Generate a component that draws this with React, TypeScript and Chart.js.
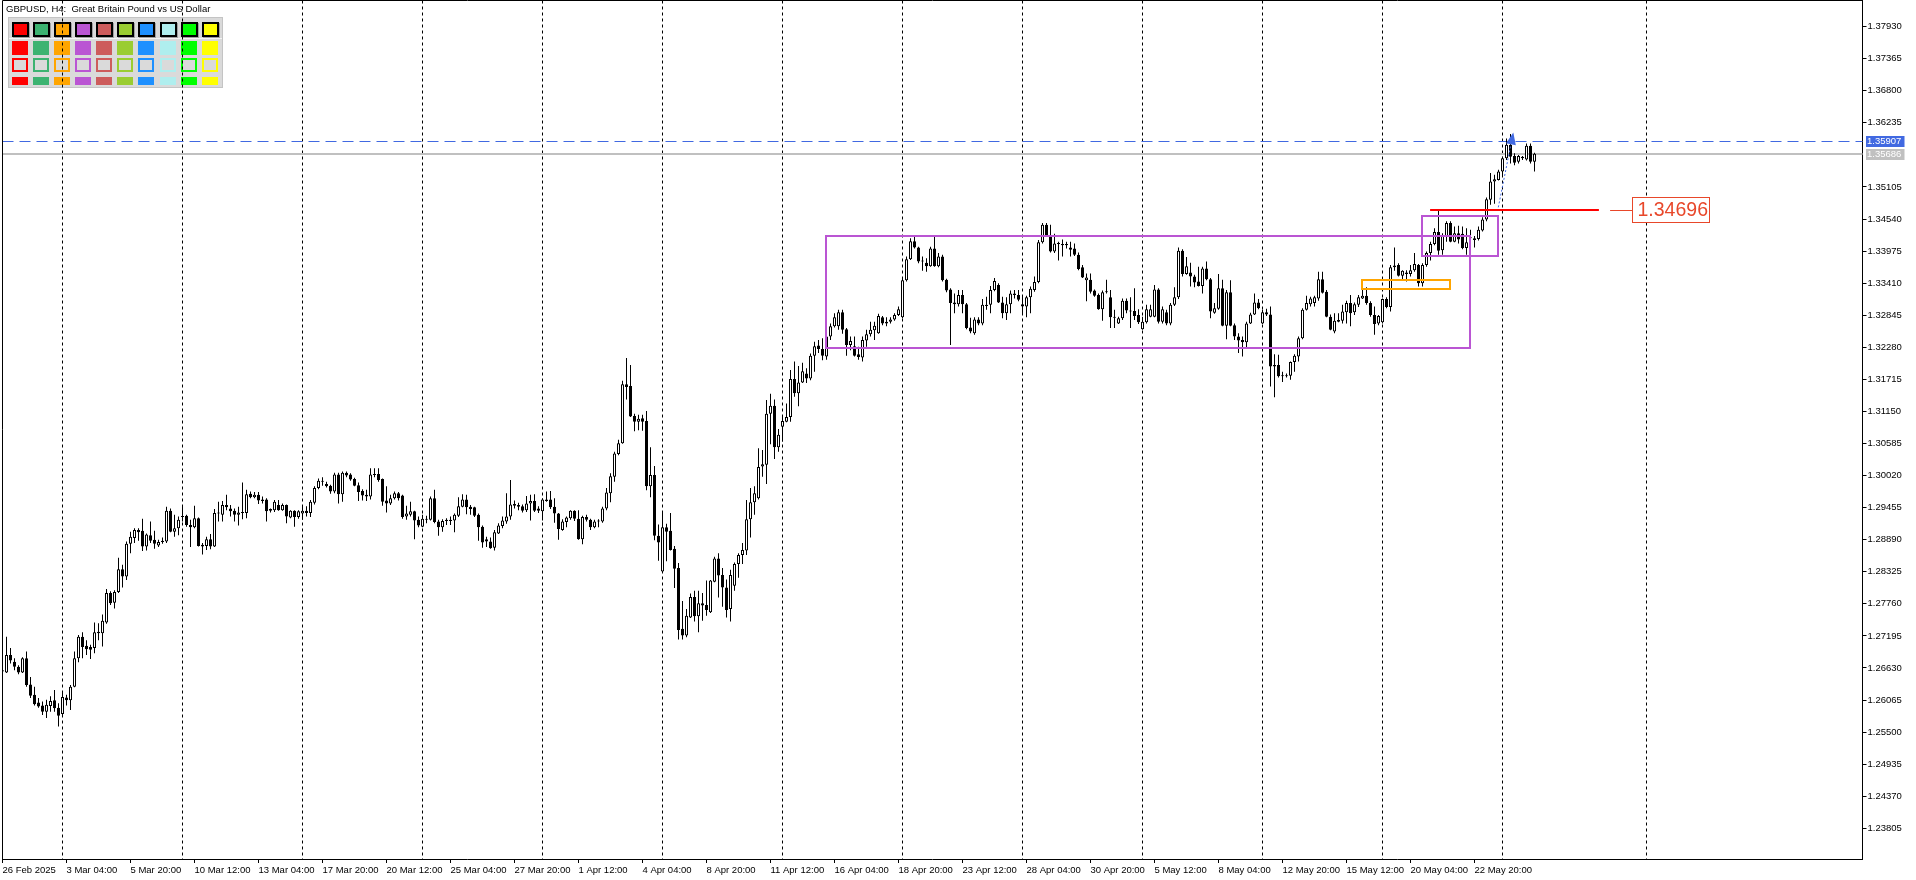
import React, { useEffect, useRef } from 'react';
import { Chart, registerables } from 'chart.js';

Chart.register(...registerables);

// ---- H4 candles (bar 0 = 26 Feb 2025 12:00) ----
const opens = [
1.2659,1.2655,1.2686,1.2674,1.2665,1.2655,1.2680,1.2634,1.2616,1.2602,
1.2597,1.2586,1.2596,1.2606,1.2593,1.2582,1.2611,1.2606,1.2630,1.2680,
1.2718,1.2702,1.2700,1.2698,1.2727,1.2724,1.2743,1.2795,1.2778,1.2797,
1.2837,1.2824,1.2882,1.2892,1.2906,1.2905,1.2877,1.2897,1.2889,1.2879,
1.2885,1.2886,1.2940,1.2903,1.2909,1.2929,1.2931,1.2915,1.2911,1.2927,
1.2880,1.2878,1.2890,1.2877,1.2935,1.2933,1.2950,1.2944,1.2940,1.2933,
1.2937,1.2936,1.2970,1.2964,1.2968,1.2960,1.2960,1.2943,1.2941,1.2950,
1.2941,1.2950,1.2928,1.2940,1.2929,1.2935,1.2940,1.2936,1.2954,1.2980,
1.2991,1.2987,1.2984,1.2974,1.3004,1.2969,1.3007,1.3004,1.2996,1.2985,
1.2975,1.2968,1.2965,1.3003,1.3005,1.2996,1.2958,1.2953,1.2962,1.2971,
1.2967,1.2930,1.2933,1.2939,1.2924,1.2912,1.2924,1.2924,1.2962,1.2921,
1.2911,1.2922,1.2924,1.2923,1.2931,1.2947,1.2960,1.2947,1.2946,1.2933,
1.2912,1.2890,1.2886,1.2875,1.2900,1.2913,1.2921,1.2930,1.2949,1.2950,
1.2948,1.2941,1.2953,1.2957,1.2944,1.2939,1.2960,1.2960,1.2947,1.2935,
1.2906,1.2920,1.2927,1.2940,1.2926,1.2890,1.2929,1.2924,1.2911,1.2921,
1.2921,1.2944,1.2971,1.3000,1.3040,1.3059,1.3163,1.3160,1.3107,1.3097,
1.3103,1.3098,1.2983,1.3003,1.2896,1.2833,1.2911,1.2905,1.2873,1.2839,
1.2732,1.2720,1.2752,1.2788,1.2754,1.2777,1.2774,1.2761,1.2815,1.2856,
1.2827,1.2805,1.2767,1.2808,1.2846,1.2862,1.2870,1.2925,1.2955,1.2962,
1.3018,1.3021,1.3111,1.3125,1.3052,1.3088,1.3097,1.3105,1.3172,1.3147,
1.3166,1.3182,1.3173,1.3213,1.3231,1.3225,1.3212,1.3247,1.3265,1.3265,
1.3290,1.3260,1.3232,1.3230,1.3216,1.3210,1.3240,1.3251,1.3258,1.3253,
1.3281,1.3273,1.3273,1.3277,1.3285,1.3281,1.3346,1.3383,1.3415,1.3404,
1.3379,1.3377,1.3371,1.3402,1.3371,1.3388,1.3347,1.3330,1.3304,1.3304,
1.3320,1.3304,1.3263,1.3253,1.3277,1.3270,1.3301,1.3303,1.3329,1.3338,
1.3307,1.3288,1.3304,1.3320,1.3320,1.3304,1.3300,1.3316,1.3329,1.3343,
1.3413,1.3444,1.3424,1.3397,1.3411,1.3410,1.3410,1.3404,1.3402,1.3391,
1.3369,1.3346,1.3347,1.3328,1.3320,1.3295,1.3325,1.3316,1.3282,1.3270,
1.3279,1.3310,1.3291,1.3292,1.3285,1.3260,1.3272,1.3282,1.3282,1.3330,
1.3273,1.3290,1.3270,1.3303,1.3316,1.3398,1.3357,1.3360,1.3353,1.3344,
1.3336,1.3367,1.3348,1.3289,1.3296,1.3332,1.3266,1.3325,1.3267,1.3247,
1.3241,1.3237,1.3270,1.3286,1.3307,1.3270,1.3290,1.3286,1.3197,1.3197,
1.3179,1.3177,1.3178,1.3202,1.3212,1.3244,1.3294,1.3304,1.3306,1.3314,
1.3348,1.3326,1.3282,1.3256,1.3276,1.3275,1.3290,1.3306,1.3290,1.3303,
1.3314,1.3319,1.3306,1.3285,1.3270,1.3272,1.3313,1.3299,1.3369,1.3373,
1.3354,1.3360,1.3357,1.3364,1.3373,1.3341,1.3373,1.3394,1.3410,1.3431,
1.3399,1.3423,1.3447,1.3414,1.3429,1.3428,1.3403,1.3420,1.3417,1.3419,
1.3434,1.3453,1.3488,1.3520,1.3523,1.3538,1.3561,1.3585,1.3565,1.3555,
1.3561,1.3559,1.3583,1.3555,
];

const highs = [
1.2663,1.2718,1.2698,1.2680,1.2668,1.2682,1.2692,1.2647,1.2630,1.2610,
1.2604,1.2607,1.2613,1.2624,1.2601,1.2620,1.2616,1.2633,1.2692,1.2721,
1.2726,1.2712,1.2704,1.2743,1.2742,1.2757,1.2802,1.2798,1.2800,1.2857,
1.2845,1.2886,1.2903,1.2909,1.2909,1.2926,1.2900,1.2921,1.2905,1.2889,
1.2893,1.2947,1.2944,1.2933,1.2930,1.2947,1.2933,1.2924,1.2949,1.2928,
1.2883,1.2894,1.2899,1.2943,1.2956,1.2957,1.2968,1.2950,1.2944,1.2947,
1.2990,1.2977,1.2974,1.2973,1.2973,1.2965,1.2962,1.2944,1.2959,1.2959,
1.2953,1.2951,1.2941,1.2941,1.2941,1.2947,1.2948,1.2959,1.2983,1.2997,
1.2999,1.2991,1.2986,1.3007,1.3007,1.3009,1.3009,1.3006,1.2998,1.2990,
1.2978,1.2977,1.3015,1.3015,1.3015,1.2997,1.2983,1.2968,1.2974,1.2973,
1.2968,1.2949,1.2956,1.2940,1.2930,1.2933,1.2931,1.2965,1.2977,1.2924,
1.2925,1.2927,1.2930,1.2935,1.2964,1.2969,1.2968,1.2950,1.2947,1.2935,
1.2914,1.2894,1.2893,1.2906,1.2918,1.2930,1.2971,1.2994,1.2958,1.2954,
1.2951,1.2966,1.2968,1.2969,1.2948,1.2962,1.2974,1.2975,1.2962,1.2936,
1.2925,1.2930,1.2941,1.2941,1.2941,1.2931,1.2933,1.2926,1.2924,1.2925,
1.2947,1.2980,1.3006,1.3044,1.3065,1.3169,1.3209,1.3197,1.3111,1.3109,
1.3109,1.3116,1.3052,1.3019,1.2916,1.2937,1.2917,1.2936,1.2878,1.2848,
1.2781,1.2767,1.2794,1.2799,1.2799,1.2795,1.2817,1.2818,1.2859,1.2865,
1.2839,1.2819,1.2836,1.2849,1.2865,1.2883,1.2959,1.2980,1.2983,1.3050,
1.3047,1.3135,1.3146,1.3136,1.3084,1.3107,1.3129,1.3188,1.3203,1.3195,
1.3201,1.3191,1.3217,1.3238,1.3241,1.3244,1.3256,1.3270,1.3288,1.3294,
1.3294,1.3262,1.3247,1.3247,1.3229,1.3247,1.3259,1.3273,1.3273,1.3287,
1.3283,1.3281,1.3281,1.3288,1.3300,1.3350,1.3388,1.3420,1.3423,1.3405,
1.3388,1.3385,1.3405,1.3423,1.3394,1.3391,1.3349,1.3332,1.3323,1.3329,
1.3329,1.3306,1.3280,1.3281,1.3281,1.3313,1.3317,1.3336,1.3350,1.3341,
1.3317,1.3316,1.3328,1.3329,1.3329,1.3317,1.3319,1.3335,1.3353,1.3417,
1.3447,1.3447,1.3444,1.3428,1.3414,1.3418,1.3414,1.3414,1.3411,1.3395,
1.3373,1.3358,1.3358,1.3330,1.3323,1.3328,1.3347,1.3329,1.3294,1.3282,
1.3314,1.3314,1.3316,1.3332,1.3295,1.3282,1.3303,1.3303,1.3338,1.3332,
1.3300,1.3294,1.3306,1.3334,1.3404,1.3401,1.3387,1.3377,1.3356,1.3370,
1.3370,1.3379,1.3350,1.3306,1.3357,1.3347,1.3329,1.3346,1.3270,1.3253,
1.3247,1.3273,1.3289,1.3323,1.3313,1.3294,1.3296,1.3300,1.3216,1.3215,
1.3185,1.3182,1.3203,1.3216,1.3247,1.3297,1.3319,1.3317,1.3319,1.3361,
1.3361,1.3329,1.3286,1.3288,1.3288,1.3303,1.3310,1.3320,1.3307,1.3320,
1.3335,1.3334,1.3309,1.3300,1.3285,1.3314,1.3316,1.3373,1.3404,1.3376,
1.3364,1.3364,1.3373,1.3394,1.3375,1.3376,1.3397,1.3414,1.3438,1.3470,
1.3429,1.3450,1.3450,1.3441,1.3442,1.3441,1.3438,1.3435,1.3424,1.3441,
1.3457,1.3492,1.3535,1.3532,1.3541,1.3564,1.3596,1.3604,1.3570,1.3567,
1.3565,1.3587,1.3587,1.3571,
];

const lows = [
1.2654,1.2654,1.2671,1.2659,1.2652,1.2654,1.2630,1.2610,1.2597,1.2593,
1.2580,1.2575,1.2586,1.2586,1.2560,1.2579,1.2597,1.2589,1.2629,1.2673,
1.2680,1.2686,1.2679,1.2689,1.2712,1.2701,1.2741,1.2774,1.2768,1.2795,
1.2805,1.2818,1.2865,1.2883,1.2887,1.2869,1.2870,1.2883,1.2873,1.2876,
1.2882,1.2883,1.2902,1.2894,1.2897,1.2921,1.2912,1.2876,1.2909,1.2877,
1.2863,1.2871,1.2872,1.2876,1.2921,1.2921,1.2941,1.2930,1.2921,1.2914,
1.2925,1.2927,1.2962,1.2962,1.2952,1.2953,1.2921,1.2937,1.2938,1.2940,
1.2940,1.2918,1.2927,1.2912,1.2926,1.2924,1.2930,1.2929,1.2951,1.2978,
1.2984,1.2981,1.2970,1.2971,1.2953,1.2956,1.2999,1.2993,1.2983,1.2957,
1.2958,1.2957,1.2960,1.2999,1.2991,1.2949,1.2937,1.2950,1.2960,1.2958,
1.2926,1.2924,1.2930,1.2890,1.2911,1.2911,1.2918,1.2923,1.2918,1.2896,
1.2903,1.2915,1.2915,1.2902,1.2929,1.2946,1.2934,1.2933,1.2929,1.2887,
1.2875,1.2876,1.2873,1.2870,1.2899,1.2909,1.2917,1.2924,1.2944,1.2941,
1.2937,1.2938,1.2923,1.2938,1.2936,1.2923,1.2956,1.2943,1.2919,1.2889,
1.2905,1.2911,1.2924,1.2922,1.2889,1.2881,1.2921,1.2906,1.2909,1.2911,
1.2919,1.2941,1.2955,1.2991,1.3038,1.3058,1.3136,1.3105,1.3080,1.3082,
1.3081,1.2976,1.2964,1.2888,1.2852,1.2832,1.2851,1.2870,1.2804,1.2713,
1.2713,1.2717,1.2751,1.2745,1.2726,1.2746,1.2755,1.2760,1.2814,1.2787,
1.2771,1.2752,1.2745,1.2799,1.2822,1.2846,1.2862,1.2893,1.2933,1.2960,
1.3000,1.2987,1.3057,1.3031,1.3044,1.3062,1.3096,1.3097,1.3141,1.3124,
1.3165,1.3165,1.3170,1.3185,1.3218,1.3205,1.3206,1.3241,1.3263,1.3259,
1.3252,1.3213,1.3223,1.3212,1.3206,1.3203,1.3229,1.3247,1.3241,1.3252,
1.3267,1.3265,1.3270,1.3275,1.3283,1.3279,1.3344,1.3382,1.3402,1.3376,
1.3363,1.3361,1.3370,1.3370,1.3369,1.3344,1.3325,1.3232,1.3288,1.3300,
1.3288,1.3260,1.3253,1.3250,1.3267,1.3267,1.3294,1.3288,1.3327,1.3306,
1.3279,1.3276,1.3288,1.3314,1.3309,1.3288,1.3281,1.3288,1.3326,1.3341,
1.3411,1.3423,1.3395,1.3394,1.3381,1.3388,1.3402,1.3388,1.3389,1.3364,
1.3350,1.3309,1.3323,1.3317,1.3294,1.3275,1.3323,1.3262,1.3262,1.3269,
1.3276,1.3288,1.3262,1.3276,1.3269,1.3259,1.3270,1.3281,1.3281,1.3270,
1.3270,1.3267,1.3267,1.3301,1.3313,1.3353,1.3356,1.3335,1.3334,1.3335,
1.3323,1.3346,1.3279,1.3287,1.3294,1.3265,1.3242,1.3265,1.3241,1.3218,
1.3212,1.3226,1.3269,1.3285,1.3295,1.3269,1.3283,1.3159,1.3140,1.3175,
1.3167,1.3175,1.3171,1.3185,1.3203,1.3242,1.3293,1.3300,1.3300,1.3310,
1.3323,1.3281,1.3258,1.3253,1.3272,1.3270,1.3270,1.3265,1.3285,1.3299,
1.3313,1.3303,1.3282,1.3250,1.3267,1.3270,1.3297,1.3291,1.3363,1.3353,
1.3345,1.3344,1.3353,1.3361,1.3335,1.3335,1.3370,1.3381,1.3408,1.3391,
1.3391,1.3414,1.3413,1.3413,1.3411,1.3401,1.3391,1.3411,1.3404,1.3416,
1.3432,1.3450,1.3479,1.3481,1.3522,1.3529,1.3558,1.3552,1.3549,1.3552,
1.3558,1.3557,1.3552,1.3538,
];

const closes = [
1.2657,1.2686,1.2676,1.2665,1.2655,1.2680,1.2633,1.2614,1.2599,1.2595,
1.2586,1.2598,1.2605,1.2592,1.2579,1.2612,1.2606,1.2630,1.2680,1.2718,
1.2700,1.2696,1.2695,1.2726,1.2724,1.2746,1.2795,1.2777,1.2797,1.2837,
1.2824,1.2882,1.2894,1.2906,1.2902,1.2877,1.2898,1.2887,1.2882,1.2885,
1.2887,1.2940,1.2903,1.2909,1.2924,1.2930,1.2915,1.2911,1.2927,1.2878,
1.2877,1.2890,1.2877,1.2936,1.2937,1.2950,1.2946,1.2939,1.2933,1.2937,
1.2936,1.2969,1.2964,1.2968,1.2958,1.2957,1.2939,1.2940,1.2956,1.2941,
1.2950,1.2930,1.2940,1.2929,1.2939,1.2940,1.2936,1.2956,1.2980,1.2993,
1.2993,1.2983,1.2974,1.3004,1.2969,1.3007,1.3002,1.2995,1.2984,1.2973,
1.2967,1.2965,1.3004,1.3005,1.2994,1.2956,1.2953,1.2962,1.2971,1.2962,
1.2929,1.2935,1.2939,1.2923,1.2914,1.2926,1.2926,1.2962,1.2920,1.2911,
1.2922,1.2924,1.2922,1.2933,1.2948,1.2960,1.2946,1.2943,1.2931,1.2911,
1.2884,1.2886,1.2874,1.2902,1.2914,1.2923,1.2930,1.2951,1.2952,1.2947,
1.2940,1.2953,1.2957,1.2940,1.2940,1.2960,1.2957,1.2946,1.2935,1.2908,
1.2921,1.2928,1.2940,1.2926,1.2890,1.2929,1.2924,1.2911,1.2921,1.2923,
1.2944,1.2972,1.3001,1.3041,1.3059,1.3163,1.3158,1.3106,1.3097,1.3102,
1.3097,1.2983,1.3003,1.2896,1.2884,1.2911,1.2903,1.2871,1.2838,1.2730,
1.2720,1.2755,1.2788,1.2754,1.2777,1.2773,1.2765,1.2817,1.2856,1.2826,
1.2805,1.2765,1.2827,1.2846,1.2862,1.2871,1.2925,1.2955,1.2971,1.3017,
1.3022,1.3111,1.3125,1.3052,1.3074,1.3098,1.3105,1.3172,1.3147,1.3166,
1.3186,1.3173,1.3213,1.3230,1.3225,1.3213,1.3247,1.3265,1.3281,1.3290,
1.3259,1.3232,1.3239,1.3213,1.3211,1.3241,1.3251,1.3259,1.3266,1.3283,
1.3270,1.3270,1.3277,1.3285,1.3295,1.3346,1.3383,1.3415,1.3404,1.3379,
1.3381,1.3371,1.3402,1.3371,1.3388,1.3346,1.3328,1.3306,1.3307,1.3320,
1.3304,1.3262,1.3256,1.3277,1.3270,1.3303,1.3303,1.3329,1.3345,1.3307,
1.3288,1.3304,1.3323,1.3323,1.3312,1.3300,1.3316,1.3331,1.3343,1.3413,
1.3444,1.3424,1.3397,1.3411,1.3410,1.3408,1.3408,1.3400,1.3391,1.3366,
1.3351,1.3351,1.3326,1.3319,1.3295,1.3325,1.3327,1.3281,1.3280,1.3279,
1.3310,1.3293,1.3293,1.3283,1.3272,1.3273,1.3295,1.3295,1.3330,1.3273,
1.3295,1.3270,1.3303,1.3316,1.3398,1.3357,1.3371,1.3353,1.3342,1.3336,
1.3367,1.3348,1.3291,1.3297,1.3332,1.3266,1.3325,1.3266,1.3247,1.3240,
1.3237,1.3270,1.3286,1.3307,1.3297,1.3290,1.3286,1.3194,1.3194,1.3177,
1.3177,1.3179,1.3202,1.3213,1.3244,1.3294,1.3306,1.3314,1.3316,1.3348,
1.3324,1.3282,1.3259,1.3275,1.3273,1.3291,1.3306,1.3288,1.3304,1.3316,
1.3319,1.3306,1.3285,1.3269,1.3283,1.3313,1.3299,1.3369,1.3372,1.3354,
1.3363,1.3357,1.3364,1.3375,1.3341,1.3373,1.3394,1.3410,1.3431,1.3398,
1.3424,1.3447,1.3414,1.3429,1.3418,1.3403,1.3413,1.3422,1.3420,1.3435,
1.3453,1.3489,1.3520,1.3524,1.3538,1.3561,1.3585,1.3564,1.3553,1.3565,
1.3564,1.3583,1.3555,1.3569,
];

// ---- axes ----
const SLOT_COUNT = 466; // bar slots visible incl. empty future space
const X_LABEL_STEP = 16;
const xTickLabels = [
  '26 Feb 2025', '3 Mar 04:00', '5 Mar 20:00', '10 Mar 12:00', '13 Mar 04:00', '17 Mar 20:00',
  '20 Mar 12:00', '25 Mar 04:00', '27 Mar 20:00', '1 Apr 12:00', '4 Apr 04:00', '8 Apr 20:00',
  '11 Apr 12:00', '16 Apr 04:00', '18 Apr 20:00', '23 Apr 12:00', '28 Apr 04:00', '30 Apr 20:00',
  '5 May 12:00', '8 May 04:00', '12 May 20:00', '15 May 12:00', '20 May 04:00', '22 May 20:00',
];
const yTickValues = [
  1.23805, 1.24370, 1.24935, 1.25500, 1.26065, 1.26630, 1.27195, 1.27760, 1.28325, 1.28890,
  1.29455, 1.30020, 1.30585, 1.31150, 1.31715, 1.32280, 1.32845, 1.33410, 1.33975, 1.34540,
  1.35105, 1.36235, 1.36800, 1.37365, 1.37930,
];
const Y_MIN = 1.23264;
const Y_MAX = 1.38391;
const weekGridBars = [15, 45, 75, 105, 135, 165, 195, 225, 255, 285, 315, 345, 375, 411];

// ---- chart objects ----
const askPrice = 1.35907;
const bidPrice = 1.35686;
const zoneFrom = [205.8, 354.8, 339.8];
const zoneTo = [366.9, 373.9, 361.9];
const zoneTop = [1.34241, 1.34594, 1.33471];
const zoneBottom = [1.32268, 1.33894, 1.33308];
const zoneColors = ['#BA55D3', '#BA55D3', '#FFA500'];
const levelPrice = 1.34696;
const levelBars = [356.9, 399.1];
const levelLeaderBars = [401.9, 407.4];
const levelBoxBars = [407.4, 426.7];
const arrowStart = [373.95, 1.34747];
const arrowEnd = [377.7, 1.36065];

const title = 'GBPUSD, H4:  Great Britain Pound vs US Dollar';
const paletteColors = ['#FF0000', '#3CB371', '#FFA500', '#BA55D3', '#CD5C5C', '#9ACD32', '#1E90FF', '#AFEEEE', '#00FF00', '#FFFF00'];

const FONT = '"Liberation Sans", Arial, sans-serif';

function drawPalette(ctx: CanvasRenderingContext2D) {
  ctx.save();
  ctx.fillStyle = '#DADADA';
  ctx.fillRect(8, 17, 215, 71);
  ctx.strokeStyle = '#C4C4C4';
  ctx.lineWidth = 1;
  ctx.strokeRect(8.5, 17.5, 214, 70);
  ctx.fillStyle = '#F4F4F4';
  ctx.fillRect(9, 38, 213, 1);
  paletteColors.forEach((c, k) => {
    const x = Math.round(11.5 + k * 21.15);
    ctx.fillStyle = '#A0A0A0';
    ctx.fillRect(x + 1, 23, 17, 15);
    ctx.fillStyle = '#000';
    ctx.fillRect(x, 22, 17, 15);
    ctx.fillStyle = c;
    ctx.fillRect(x + 2, 24, 13, 11);
    ctx.fillRect(x, 41, 16, 14);
    ctx.strokeStyle = c;
    ctx.lineWidth = 2;
    ctx.strokeRect(x + 1, 59, 14, 12);
    ctx.fillStyle = c;
    ctx.fillRect(x, 77, 16, 8);
  });
  ctx.fillStyle = '#000';
  ctx.font = '9.5px ' + FONT;
  ctx.textBaseline = 'middle';
  ctx.textAlign = 'left';
  ctx.fillText(title, 6, 9.5);
  ctx.restore();
}

const overlayPlugin = {
  id: 'mtOverlay',
  beforeDraw(chart: any) {
    drawPalette(chart.ctx);
  },
  beforeDatasetsDraw(chart: any) {
    const { ctx, chartArea: a, scales } = chart;
    const xs = scales.x, ys = scales.y;
    ctx.save();
    // weekly dotted grid
    ctx.strokeStyle = '#000';
    ctx.lineWidth = 1;
    ctx.setLineDash([3, 3]);
    weekGridBars.forEach((b) => {
      const x = Math.round(xs.getPixelForValue(b) - 0.5) + 0.5;
      ctx.beginPath();
      ctx.moveTo(x, a.top);
      ctx.lineTo(x, a.bottom);
      ctx.stroke();
    });
    // bid line (grey) and ask line (blue dashed)
    const yb = ys.getPixelForValue(bidPrice);
    ctx.setLineDash([]);
    ctx.strokeStyle = '#C0C0C0';
    ctx.lineWidth = 2;
    ctx.beginPath();
    ctx.moveTo(a.left, Math.round(yb));
    ctx.lineTo(a.right, Math.round(yb));
    ctx.stroke();
    const ya = Math.round(ys.getPixelForValue(askPrice)) + 0.5;
    ctx.setLineDash([11, 6]);
    ctx.strokeStyle = '#4169E1';
    ctx.lineWidth = 1;
    ctx.beginPath();
    ctx.moveTo(a.left, ya);
    ctx.lineTo(a.right, ya);
    ctx.stroke();
    ctx.restore();
  },
  afterDatasetsDraw(chart: any) {
    const { ctx, chartArea: a, scales } = chart;
    const xs = scales.x, ys = scales.y;
    ctx.save();
    // rectangles
    zoneFrom.forEach((f, k) => {
      const x0 = Math.round(xs.getPixelForValue(f));
      const x1 = Math.round(xs.getPixelForValue(zoneTo[k]));
      const y0 = Math.round(ys.getPixelForValue(zoneTop[k]));
      const y1 = Math.round(ys.getPixelForValue(zoneBottom[k]));
      ctx.strokeStyle = zoneColors[k];
      ctx.lineWidth = 2;
      ctx.strokeRect(x0, y0, x1 - x0, y1 - y0);
    });
    // horizontal level
    const yl = Math.round(ys.getPixelForValue(levelPrice));
    ctx.strokeStyle = '#FF0000';
    ctx.lineWidth = 2;
    ctx.beginPath();
    ctx.moveTo(xs.getPixelForValue(levelBars[0]), yl);
    ctx.lineTo(xs.getPixelForValue(levelBars[1]), yl);
    ctx.stroke();
    // level label
    const lc = '#E8472A';
    ctx.strokeStyle = lc;
    ctx.lineWidth = 1;
    ctx.beginPath();
    ctx.moveTo(xs.getPixelForValue(levelLeaderBars[0]), yl + 0.5);
    ctx.lineTo(xs.getPixelForValue(levelLeaderBars[1]), yl + 0.5);
    ctx.stroke();
    const bx0 = Math.round(xs.getPixelForValue(levelBoxBars[0])) + 0.5;
    const bx1 = Math.round(xs.getPixelForValue(levelBoxBars[1])) + 0.5;
    ctx.fillStyle = '#fff';
    ctx.fillRect(bx0, yl - 12.5, bx1 - bx0, 25);
    ctx.strokeRect(bx0, yl - 12.5, bx1 - bx0, 25);
    ctx.fillStyle = lc;
    ctx.font = '19.5px ' + FONT;
    ctx.textBaseline = 'middle';
    ctx.textAlign = 'left';
    ctx.fillText(levelPrice.toFixed(5), bx0 + 5, yl + 1);
    // arrow
    const x1 = xs.getPixelForValue(arrowStart[0]), y1 = ys.getPixelForValue(arrowStart[1]);
    const x2 = xs.getPixelForValue(arrowEnd[0]), y2 = ys.getPixelForValue(arrowEnd[1]);
    const ang = Math.atan2(y2 - y1, x2 - x1);
    const c = Math.cos(ang), s = Math.sin(ang);
    ctx.strokeStyle = '#4169E1';
    ctx.fillStyle = '#4169E1';
    ctx.setLineDash([2, 2]);
    ctx.beginPath();
    ctx.moveTo(x1, y1);
    ctx.lineTo(x2 - 10 * c, y2 - 10 * s);
    ctx.stroke();
    ctx.setLineDash([]);
    ctx.beginPath();
    ctx.moveTo(x2, y2);
    ctx.lineTo(x2 - 12 * c - 5 * s, y2 - 12 * s + 5 * c);
    ctx.lineTo(x2 - 12 * c + 5 * s, y2 - 12 * s - 5 * c);
    ctx.closePath();
    ctx.fill();
    // frame (left, top)
    ctx.strokeStyle = '#000';
    ctx.lineWidth = 1;
    ctx.beginPath();
    ctx.moveTo(a.left, a.bottom);
    ctx.lineTo(a.left, 0.5);
    ctx.lineTo(a.right, 0.5);
    ctx.stroke();
    ctx.restore();
  },
  afterDraw(chart: any) {
    const { ctx, chartArea: a, scales } = chart;
    const ys = scales.y;
    ctx.save();
    ctx.font = '9.5px ' + FONT;
    ctx.textBaseline = 'middle';
    ctx.textAlign = 'left';
    const tags: [number, string, string][] = [
      [askPrice, '#4169E1', '#FFFFFF'],
      [bidPrice, '#C0C0C0', '#FFFFFF'],
    ];
    tags.forEach(([p, bg, fg]) => {
      const y = Math.round(ys.getPixelForValue(p));
      ctx.fillStyle = bg;
      ctx.fillRect(a.right + 3.5, y - 5, 38.5, 11);
      ctx.fillStyle = fg;
      ctx.fillText(p.toFixed(5), a.right + 4.5, y + 0.5);
    });
    ctx.restore();
  },
};

export default function App() {
  const canvasRef = useRef<HTMLCanvasElement | null>(null);

  useEffect(() => {
    document.body.style.margin = '0';
    document.body.style.overflow = 'hidden';
    const canvas = canvasRef.current;
    if (!canvas) return;

    const labels = Array.from({ length: SLOT_COUNT }, (_, i) => String(i));
    const bodies = opens.map((o, i) => [o, closes[i]]);
    const wicks = lows.map((l, i) => [l, highs[i]]);

    const chart = new Chart(canvas, {
      type: 'bar',
      data: {
        labels,
        datasets: [
          {
            label: 'body',
            data: bodies as any,
            order: 0,
            grouped: false,
            barThickness: 3,
            minBarLength: 1,
            inflateAmount: 0,
            borderWidth: 1,
            borderSkipped: false,
            borderColor: '#000000',
            backgroundColor: (c: any) => (closes[c.dataIndex] >= opens[c.dataIndex] ? '#FFFFFF' : '#000000'),
          } as any,
          {
            label: 'wick',
            data: wicks as any,
            order: 1,
            grouped: false,
            barThickness: 1,
            minBarLength: 1,
            inflateAmount: 0,
            borderWidth: 0,
            backgroundColor: '#000000',
          } as any,
        ],
      },
      options: {
        responsive: false,
        maintainAspectRatio: false,
        animation: false,
        devicePixelRatio: 1,
        events: [],
        layout: { padding: { left: 2.5, top: 0.5, right: 0, bottom: 0 } },
        plugins: { legend: { display: false }, tooltip: { enabled: false }, title: { display: false } },
        scales: {
          x: {
            type: 'category',
            offset: false,
            grid: { display: true, offset: false, drawOnChartArea: false, drawTicks: true, tickLength: 4, tickColor: '#000', color: '#000' },
            border: { display: true, color: '#000', width: 1 },
            ticks: {
              autoSkip: false,
              maxRotation: 0,
              minRotation: 0,
              align: 'start',
              padding: 2,
              color: '#000',
              font: { family: FONT, size: 9.5 },
              callback: (v: any) => {
                const n = Number(v);
                return n % X_LABEL_STEP === 0 ? xTickLabels[n / X_LABEL_STEP] ?? '' : '';
              },
            },
            afterBuildTicks: (axis: any) => {
              axis.ticks = axis.ticks.filter((t: any) => t.value % X_LABEL_STEP === 0 && t.value / X_LABEL_STEP < xTickLabels.length);
            },
            afterFit: (axis: any) => {
              axis.height = 21;
              axis.paddingLeft = 0;
              axis.paddingRight = 0;
            },
          } as any,
          y: {
            type: 'linear',
            position: 'right',
            min: Y_MIN,
            max: Y_MAX,
            grid: { display: true, drawOnChartArea: false, drawTicks: true, tickLength: 4, tickColor: '#000', color: '#000' },
            border: { display: true, color: '#000', width: 1 },
            ticks: {
              autoSkip: false,
              padding: 1,
              color: '#000',
              font: { family: FONT, size: 9.5 },
              callback: (v: any) => Number(v).toFixed(5),
            },
            afterBuildTicks: (axis: any) => {
              axis.ticks = yTickValues.map((v) => ({ value: v }));
            },
            afterFit: (axis: any) => {
              axis.width = 53.5;
              axis.paddingTop = 0;
              axis.paddingBottom = 0;
            },
          } as any,
        },
      },
      plugins: [overlayPlugin],
    });

    return () => {
      chart.destroy();
    };
  }, []);

  return (
    <div style={{ width: 1916, height: 880, position: 'relative', background: '#FFFFFF' }}>
      <canvas ref={canvasRef} width={1916} height={880} style={{ display: 'block', width: 1916, height: 880 }} />
    </div>
  );
}
